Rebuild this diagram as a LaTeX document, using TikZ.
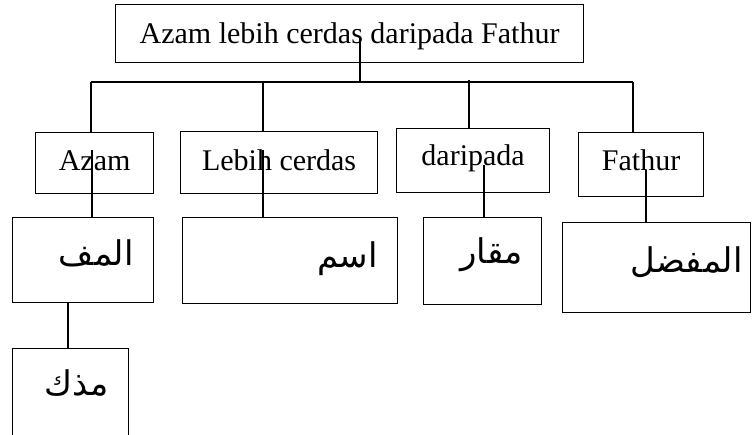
\documentclass[tikz,border=0pt]{standalone}
\usepackage{fontspec}
\setmainfont{Liberation Serif}
\newfontfamily\arabicfont[Script=Arabic]{DejaVu Sans}
\TeXXeTstate=1
\usepackage{tikz}

\begin{document}
\begin{tikzpicture}[
  x=1pt, y=-1pt,
  box/.style={draw=black, line width=1.2pt, inner sep=0pt, anchor=north west,
              font=\fontsize{30}{30}\selectfont},
  arbox/.style={box, align=right, font=\arabicfont\fontsize{34}{34}\selectfont},
  link/.style={line width=1.2pt, draw=black}
]
  \useasboundingbox (0,0) rectangle (752,435);

  % Sentence
  \node[box, minimum width=468pt, text height=39pt, text depth=19pt] (kalimat) at (115,4)
    {Azam lebih cerdas daripada Fathur};

  % Words
  \node[box, minimum width=118pt, text height=38pt, text depth=23pt] (azam) at (35,132) {Azam};
  \node[box, minimum width=197pt, text height=39pt, text depth=23pt] (lebih) at (180,131) {Lebih cerdas};
  \node[box, minimum width=153pt, text height=37pt, text depth=27pt] (daripada) at (396,128) {daripada};
  \node[box, minimum width=125pt, text height=38pt, text depth=26pt] (fathur) at (578,132) {Fathur};

  % Arabic terms
  \node[arbox, inner xsep=20pt, text width=101pt, text height=48pt, text depth=37pt] (mufrad) at (12,217)
    {\beginR المف\endR};
  \node[arbox, inner xsep=20pt, text width=175pt, text height=50pt, text depth=36pt] (isim) at (182,217)
    {\beginR اسم\endR};
  \node[arbox, inner xsep=19pt, text width=80pt, text height=46pt, text depth=41pt] (miqar) at (423,217)
    {\beginR مقار\endR};
  \node[arbox, inner xsep=8pt, text width=172pt, text height=50pt, text depth=40pt] (mufaddal) at (562,222)
    {\beginR المفضل\endR};
  \node[arbox, inner xsep=20pt, text width=76pt, text height=47pt, text depth=40pt] (mudzakkar) at (12,348)
    {\beginR مذك\endR};

  % Bus from sentence
  \coordinate (busL) at (91,82);
  \coordinate (busR) at (633,82);
  \coordinate (ktap) at (360,37);
  \draw[link] (ktap) -- (ktap |- busL);
  \draw[link] (busL) -- (busR);
  \draw[link] (busL) -- (busL |- azam.north);
  \coordinate (t2) at (263,82);
  \draw[link] (t2) -- (t2 |- lebih.north);
  \coordinate (t3) at (469,80);
  \draw[link] (t3) -- (t3 |- daripada.north);
  \draw[link] (busR) -- (busR |- fathur.north);

  % Words to terms
  \coordinate (d1) at (92,150);
  \draw[link] (d1) -- (d1 |- mufrad.north);
  \coordinate (d2) at (263,150);
  \draw[link] (d2) -- (d2 |- isim.north);
  \coordinate (d3) at (484,165);
  \draw[link] (d3) -- (d3 |- miqar.north);
  \coordinate (d4) at (646,170);
  \draw[link] (d4) -- (d4 |- mufaddal.north);
  \coordinate (d5) at (68,302);
  \draw[link] (d5) -- (d5 |- mudzakkar.north);
\end{tikzpicture}
\end{document}
